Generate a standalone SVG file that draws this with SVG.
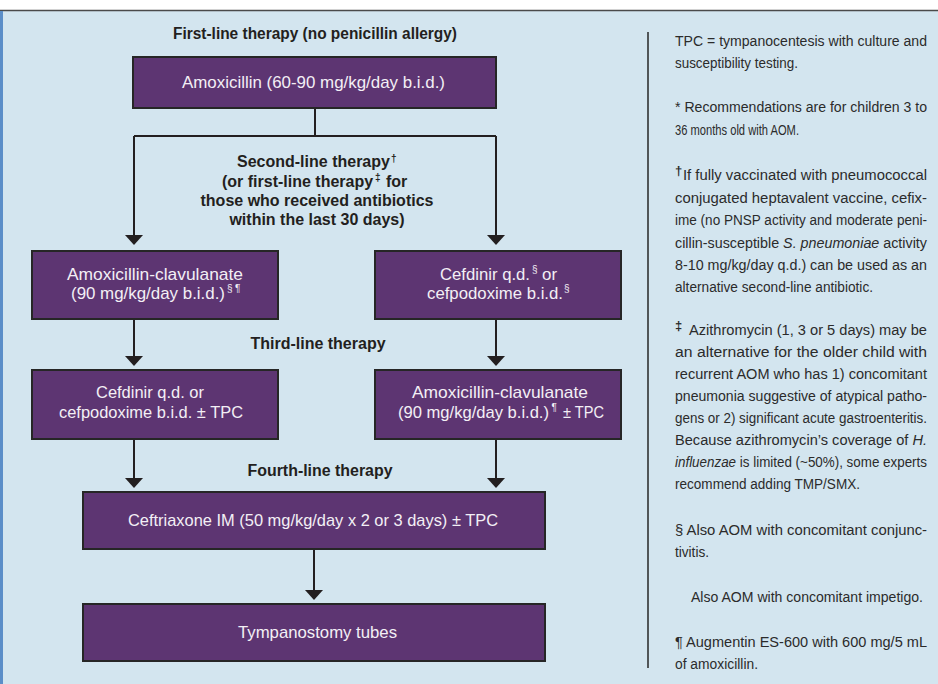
<svg xmlns="http://www.w3.org/2000/svg" width="938" height="684" viewBox="0 0 938 684">
<style>
.bg{fill:#d3e5ef}
.box{fill:#5d3572;stroke:#262626;stroke-width:2}
.bt{font-family:"Liberation Sans",Arial,sans-serif;font-size:17px;fill:#f3eff5}
.bs{font-family:"Liberation Sans",Arial,sans-serif;font-size:10px;fill:#f3eff5}
.lb{font-family:"Liberation Sans",Arial,sans-serif;font-size:16px;font-weight:bold;fill:#231f20}
.ls{font-family:"Liberation Sans",Arial,sans-serif;font-size:10px;font-weight:bold;fill:#231f20}
.nt{font-family:"Liberation Sans",Arial,sans-serif;font-size:14px;fill:#2b2b2b}
.nj{font-family:"Liberation Sans",Arial,sans-serif;font-size:14px;fill:#2b2b2b;text-anchor:middle}
.ns{font-family:"Liberation Sans",Arial,sans-serif;font-size:13px;font-weight:bold;fill:#2b2b2b}
.con{fill:none;stroke:#231f20;stroke-width:2}
.it{font-style:italic}
</style>
<defs>
<marker id="arr" viewBox="0 0 10 18" refX="6" refY="9" markerWidth="10" markerHeight="18" markerUnits="userSpaceOnUse" orient="auto">
<path d="M0,0 L10,9 L0,18 Z" fill="#231f20"/>
</marker>
</defs>
<rect x="0" y="0" width="938" height="684" fill="#ffffff"/>
<rect class="bg" x="0" y="10" width="938" height="674"/>
<line x1="0" y1="10.5" x2="938" y2="10.5" stroke="#4a4a4a" stroke-width="1.5"/>
<rect x="0" y="11" width="3" height="673" fill="#5b8ec8"/>
<line x1="648" y1="32" x2="648" y2="668" stroke="#262626" stroke-width="1.5"/>

<g id="labels">
<text class="lb" x="315" y="39" text-anchor="middle" textLength="284" lengthAdjust="spacingAndGlyphs">First-line therapy (no penicillin allergy)</text>
<text class="lb" x="237" y="167">Second-line therapy</text>
<text class="ls" x="391" y="162">†</text>
<text class="lb" x="222" y="186.5">(or first-line therapy</text>
<text class="ls" x="375" y="181">‡</text>
<text class="lb" x="386" y="186.5">for</text>
<text class="lb" x="317" y="206" text-anchor="middle">those who received antibiotics</text>
<text class="lb" x="317" y="225" text-anchor="middle">within the last 30 days)</text>
<text class="lb" x="318" y="349" text-anchor="middle">Third-line therapy</text>
<text class="lb" x="320" y="476" text-anchor="middle" textLength="145" lengthAdjust="spacingAndGlyphs">Fourth-line therapy</text>
</g>

<g id="connectors">
<path class="con" d="M315,108 V136"/>
<path class="con" d="M134,136 H496"/>
<path class="con" d="M134,136 V241" marker-end="url(#arr)"/>
<path class="con" d="M496,136 V241" marker-end="url(#arr)"/>
<path class="con" d="M134,319 V362" marker-end="url(#arr)"/>
<path class="con" d="M496,319 V362" marker-end="url(#arr)"/>
<path class="con" d="M134,439 V484" marker-end="url(#arr)"/>
<path class="con" d="M496,439 V484" marker-end="url(#arr)"/>
<path class="con" d="M314,549 V596" marker-end="url(#arr)"/>
</g>

<g id="amoxicillin">
<rect class="box" x="133" y="57" width="363" height="51"/>
<text class="bt" x="182" y="88" textLength="263" lengthAdjust="spacingAndGlyphs">Amoxicillin (60-90 mg/kg/day b.i.d.)</text>
</g>

<g id="amox-clav-2">
<rect class="box" x="32" y="251" width="246" height="68"/>
<text class="bt" x="67" y="280" textLength="176" lengthAdjust="spacingAndGlyphs">Amoxicillin-clavulanate</text>
<text class="bt" x="71" y="299" textLength="154" lengthAdjust="spacingAndGlyphs">(90 mg/kg/day b.i.d.)</text>
<text class="bs" x="227" y="292">§</text>
<text class="bs" x="235" y="292">¶</text>
</g>

<g id="cefdinir-2">
<rect class="box" x="375" y="251" width="246" height="68"/>
<text class="bt" x="440" y="280" textLength="90" lengthAdjust="spacingAndGlyphs">Cefdinir q.d.</text>
<text class="bs" x="532" y="273">§</text>
<text class="bt" x="542" y="280" textLength="15" lengthAdjust="spacingAndGlyphs">or</text>
<text class="bt" x="427" y="299" textLength="136" lengthAdjust="spacingAndGlyphs">cefpodoxime b.i.d.</text>
<text class="bs" x="564" y="292">§</text>
</g>

<g id="cefdinir-3">
<rect class="box" x="32" y="370" width="246" height="69"/>
<text class="bt" x="150" y="398" text-anchor="middle" textLength="108" lengthAdjust="spacingAndGlyphs">Cefdinir q.d. or</text>
<text class="bt" x="151" y="418" text-anchor="middle" textLength="184" lengthAdjust="spacingAndGlyphs">cefpodoxime b.i.d. ± TPC</text>
</g>

<g id="amox-clav-3">
<rect class="box" x="375" y="370" width="246" height="69"/>
<text class="bt" x="500" y="398" text-anchor="middle" textLength="176" lengthAdjust="spacingAndGlyphs">Amoxicillin-clavulanate</text>
<text class="bt" x="398" y="418" textLength="151" lengthAdjust="spacingAndGlyphs">(90 mg/kg/day b.i.d.)</text>
<text class="bs" x="551.5" y="411">¶</text>
<text class="bt" x="563" y="418" textLength="41" lengthAdjust="spacingAndGlyphs">± TPC</text>
</g>

<g id="ceftriaxone">
<rect class="box" x="83" y="492" width="462" height="57"/>
<text class="bt" x="128" y="526" textLength="370" lengthAdjust="spacingAndGlyphs">Ceftriaxone IM (50 mg/kg/day x 2 or 3 days) ± TPC</text>
</g>

<g id="tympanostomy">
<rect class="box" x="83" y="604" width="462" height="57"/>
<text class="bt" x="238" y="638" textLength="159" lengthAdjust="spacingAndGlyphs">Tympanostomy tubes</text>
</g>

<g id="notes">
<text class="nj" x="801" y="46" textLength="252" lengthAdjust="spacingAndGlyphs">TPC = tympanocentesis with culture and</text>
<text class="nt" x="675" y="68" textLength="123" lengthAdjust="spacingAndGlyphs">susceptibility testing.</text>
<text class="nj" x="801" y="112" textLength="252" lengthAdjust="spacingAndGlyphs">* Recommendations are for children 3 to</text>
<text class="nt" x="675" y="135" textLength="124" lengthAdjust="spacingAndGlyphs">36 months old with AOM.</text>
<text class="ns" x="675" y="175">†</text>
<text class="nj" x="805" y="180" textLength="244" lengthAdjust="spacingAndGlyphs">If fully vaccinated with pneumococcal</text>
<text class="nj" x="801" y="203" textLength="252" lengthAdjust="spacingAndGlyphs">conjugated heptavalent vaccine, cefix-</text>
<text class="nj" x="801" y="225" textLength="252" lengthAdjust="spacingAndGlyphs">ime (no PNSP activity and moderate peni-</text>
<text class="nj" x="801" y="248" textLength="252" lengthAdjust="spacingAndGlyphs">cillin-susceptible <tspan class="it">S. pneumoniae</tspan> activity</text>
<text class="nj" x="801" y="270" textLength="252" lengthAdjust="spacingAndGlyphs">8-10 mg/kg/day q.d.) can be used as an</text>
<text class="nt" x="675" y="292" textLength="198" lengthAdjust="spacingAndGlyphs">alternative second-line antibiotic.</text>
<text class="ns" x="675" y="330">‡</text>
<text class="nj" x="808" y="335" textLength="238" lengthAdjust="spacingAndGlyphs">Azithromycin (1, 3 or 5 days) may be</text>
<text class="nj" x="801" y="357" textLength="252" lengthAdjust="spacingAndGlyphs">an alternative for the older child with</text>
<text class="nj" x="801" y="379" textLength="252" lengthAdjust="spacingAndGlyphs">recurrent AOM who has 1) concomitant</text>
<text class="nj" x="801" y="401" textLength="252" lengthAdjust="spacingAndGlyphs">pneumonia suggestive of atypical patho-</text>
<text class="nj" x="801" y="423" textLength="252" lengthAdjust="spacingAndGlyphs">gens or 2) significant acute gastroenteritis.</text>
<text class="nj" x="801" y="445" textLength="252" lengthAdjust="spacingAndGlyphs">Because azithromycin’s coverage of <tspan class="it">H.</tspan></text>
<text class="nj" x="801" y="467" textLength="252" lengthAdjust="spacingAndGlyphs"><tspan class="it">influenzae</tspan> is limited (~50%), some experts</text>
<text class="nt" x="675" y="489" textLength="185" lengthAdjust="spacingAndGlyphs">recommend adding TMP/SMX.</text>
<text class="nj" x="801" y="535" textLength="252" lengthAdjust="spacingAndGlyphs">§ Also AOM with concomitant conjunc-</text>
<text class="nt" x="675" y="557" textLength="34" lengthAdjust="spacingAndGlyphs">tivitis.</text>
<text class="nt" x="691" y="602" textLength="232" lengthAdjust="spacingAndGlyphs">Also AOM with concomitant impetigo.</text>
<text class="nj" x="801" y="647" textLength="252" lengthAdjust="spacingAndGlyphs">¶ Augmentin ES-600 with 600 mg/5 mL</text>
<text class="nt" x="675" y="669" textLength="83" lengthAdjust="spacingAndGlyphs">of amoxicillin.</text>
</g>
</svg>
